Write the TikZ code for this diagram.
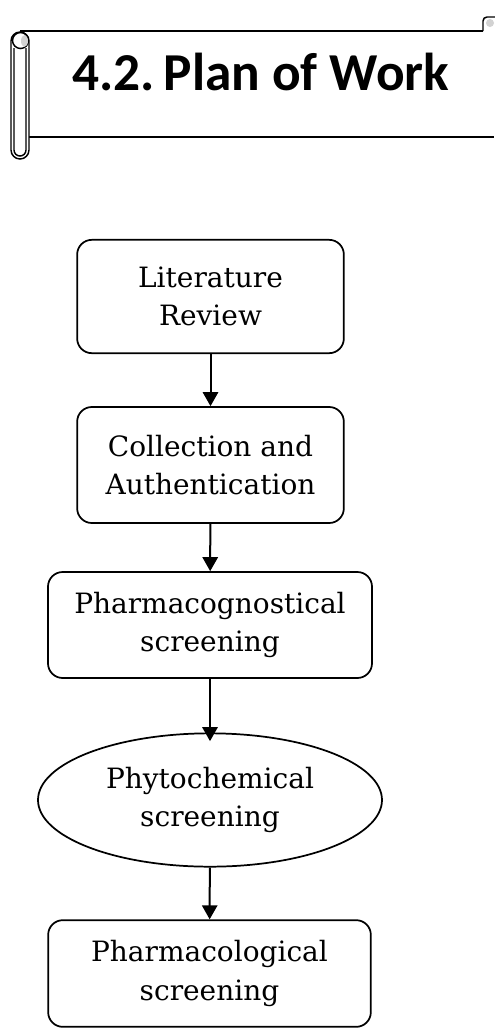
\documentclass[tikz,border=0pt]{standalone}
\usepackage{fontspec}
\setmainfont{DejaVu Serif}
\newfontfamily\titlefont{Carlito}
\usetikzlibrary{shapes.geometric,arrows.meta}
\begin{document}
\begin{tikzpicture}[x=0.75pt,y=-0.75pt,
stage/.style={draw,line width=1.3pt,rounded corners=11pt,align=center,inner sep=0pt,
font=\fontsize{21}{29}\selectfont},
link/.style={-{Triangle[length=10.5pt,width=11.5pt]},line width=1.5pt}]
\useasboundingbox (0,0) rectangle (494,1029);
% scroll
\draw[line width=1.1pt] (20,31) -- (483,31);
\draw[line width=1.1pt] (29,137) -- (494,137);
\draw[line width=1.1pt,fill=white,rounded corners=6.75pt] (11,32) rectangle (29,159);
\draw[line width=1.1pt,rounded corners=4.5pt] (14,48) -- (14,156) -- (26,156) -- (26,48);
\draw[line width=1.1pt,fill=white] (20.5,40.5) circle[radius=6pt];
\fill[gray!35] (24.5,41) ellipse[x radius=2.6pt,y radius=4.4pt];
\draw[line width=1.1pt,fill=white,rounded corners=3pt] (483,31) -- (483,17) -- (500,17) -- (500,31);
\fill[gray!35] (490,23) circle[radius=3pt];
\node[anchor=base west,inner sep=0pt,font=\titlefont\bfseries\fontsize{40}{44}\selectfont]
(t) at (72,90) {4.2.\,Plan of Work};
% flow
\node[stage,minimum width=200pt,minimum height=85pt]
(lit) at (210.5,296.5) {Literature\\Review};
\node[stage,minimum width=200pt,minimum height=87pt]
(coll) at (210.5,465) {Collection and\\Authentication};
\node[stage,minimum width=243pt,minimum height=79.5pt]
(pcog) at (210,625) {Pharmacognostical\\screening};
\node[ellipse,draw,line width=1.3pt,align=center,inner sep=0pt,minimum width=258pt,minimum height=100pt,
font=\fontsize{21}{29}\selectfont]
(phyto) at (210,800) {Phytochemical\\screening};
\node[stage,minimum width=242pt,minimum height=80pt]
(pcol) at (209.5,973.5) {Pharmacological\\screening};
\draw[link](lit) -- (coll);
\draw[link](coll) -- (pcog);
\draw[link,shorten >=-6.5pt](pcog) -- (phyto);
\draw[link](phyto) -- (pcol);
\end{tikzpicture}
\end{document}
